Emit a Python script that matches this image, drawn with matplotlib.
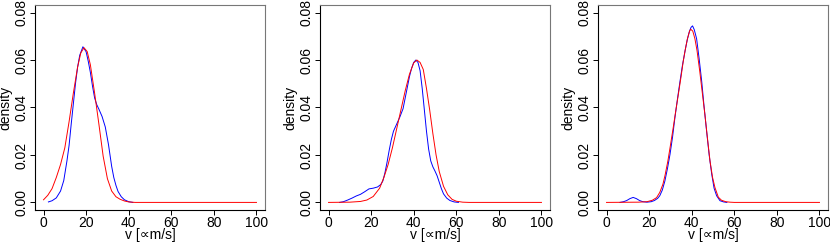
import matplotlib.pyplot as plt

plt.rcParams['font.family'] = ['Liberation Sans', 'DejaVu Sans']

# panel 1 : estimated density curves (blue = kernel estimate, red = fit)
p1_blue_x = [2.3, 4, 6, 8, 9.5, 11, 12, 13, 14, 15, 16, 17, 18.5, 20, 21, 22, 23, 24, 25, 26,
             27.5, 29, 30.5, 32, 33, 34, 35, 36.5, 38, 40, 42]
p1_blue_y = [0.0002, 0.0007, 0.0019, 0.0048, 0.0092, 0.0175, 0.0240, 0.0330, 0.0415, 0.0500,
             0.0570, 0.0620, 0.0656, 0.0635, 0.0595, 0.0548, 0.0490, 0.0440, 0.0412, 0.0393,
             0.0362, 0.0318, 0.0244, 0.0152, 0.0105, 0.0072, 0.0046, 0.0024, 0.0011, 0.0003, 0.0]
p1_red_x = [0, 2, 4, 6, 8, 10, 12, 14, 16, 17.5, 19, 20.5, 22, 24, 26, 28, 30, 32, 34, 36,
            38, 40, 43, 100]
p1_red_y = [0.0011, 0.0030, 0.0058, 0.0105, 0.0160, 0.0230, 0.0340, 0.0460, 0.0570, 0.0630,
            0.0652, 0.0636, 0.0580, 0.0460, 0.0330, 0.0195, 0.0100, 0.0048, 0.0024, 0.0013,
            0.0006, 0.0002, 0.0, 0.0]

# panel 2
p2_blue_x = [5.2, 7, 9, 11, 13, 15, 17, 19, 21, 23, 24.5, 25.5, 26.5, 27.5, 28.5, 29.5, 30.5,
             32, 33.5, 35, 36, 37, 38, 39, 40, 41, 42, 43, 44, 45, 46, 47, 48, 49, 50, 51, 52,
             53, 54, 55.5, 57, 59, 61]
p2_blue_y = [0.0, 0.0003, 0.0010, 0.0018, 0.0027, 0.0034, 0.0045, 0.0057, 0.0060, 0.0065,
             0.0075, 0.0090, 0.0125, 0.0170, 0.0220, 0.0265, 0.0300, 0.0330, 0.0360, 0.0395,
             0.0440, 0.0485, 0.0530, 0.0565, 0.0590, 0.0600, 0.0590, 0.0555, 0.0480, 0.0390,
             0.0300, 0.0225, 0.0175, 0.0150, 0.0132, 0.0112, 0.0085, 0.0058, 0.0036, 0.0018,
             0.0008, 0.0002, 0.0]
p2_red_x = [0, 10, 15, 18, 21, 24, 26, 28, 30, 32, 34, 36, 38, 40, 41.5, 43, 44.5, 46, 47.5,
            49, 50.5, 52, 54, 56, 58, 60, 63, 66, 100]
p2_red_y = [0.0, 0.0001, 0.0004, 0.0010, 0.0025, 0.0060, 0.0105, 0.0160, 0.0230, 0.0310,
            0.0390, 0.0470, 0.0540, 0.0588, 0.0600, 0.0590, 0.0560, 0.0480, 0.0390, 0.0290,
            0.0200, 0.0130, 0.0068, 0.0032, 0.0013, 0.0005, 0.0001, 0.0, 0.0]

# panel 3
p3_blue_x = [6.3, 8, 9.5, 11, 12.5, 14, 15.5, 17, 19, 21, 22.5, 24, 25, 26.2, 27.4, 28.6, 29.8,
             31, 32.1, 33.3, 34.5, 35.6, 36.8, 37.9, 38.9, 39.7, 40.4, 41.2, 42.3, 43.5, 44.7,
             45.8, 47, 48.2, 49.4, 50.5, 51.7, 53.3, 55, 56.5]
p3_blue_y = [0.0, 0.0003, 0.0008, 0.0016, 0.0021, 0.0016, 0.0008, 0.0003, 0.0001, 0.0003,
             0.0008, 0.0017, 0.0028, 0.0052, 0.0090, 0.0142, 0.0202, 0.0275, 0.0356, 0.0435,
             0.0510, 0.0575, 0.0635, 0.0685, 0.0720, 0.0738, 0.0744, 0.0728, 0.0690, 0.0605,
             0.0510, 0.0405, 0.0300, 0.0200, 0.0119, 0.0060, 0.0028, 0.0007, 0.0002, 0.0]
p3_red_x = [0, 15, 19, 21.5, 23.5, 25, 26.5, 27.5, 28.8, 30, 31.3, 32.5, 33.7, 35, 36, 37, 38,
            39, 39.5, 40.5, 41.5, 42.5, 43.8, 45, 46.2, 47.4, 48.6, 49.8, 50.9, 52.5, 54, 56,
            58, 60, 100]
p3_red_y = [0.0, 0.0001, 0.0003, 0.0009, 0.0020, 0.0042, 0.0077, 0.0115, 0.0174, 0.0240,
            0.0314, 0.0385, 0.0454, 0.0530, 0.0593, 0.0645, 0.0690, 0.0722, 0.0730, 0.0722,
            0.0690, 0.0640, 0.0551, 0.0460, 0.0370, 0.0270, 0.0174, 0.0105, 0.0063, 0.0022,
            0.0009, 0.0003, 0.0001, 0.0, 0.0]

panels = [(p1_blue_x, p1_blue_y, p1_red_x, p1_red_y),
          (p2_blue_x, p2_blue_y, p2_red_x, p2_red_y),
          (p3_blue_x, p3_blue_y, p3_red_x, p3_red_y)]
lefts = [35, 320, 598]  # pixel position of each plot box

fig = plt.figure(figsize=(8.3, 2.43), dpi=100)
for (bx, by, rx, ry), left in zip(panels, lefts):
    ax = fig.add_axes([left / 830, 33 / 243, 230 / 830, 205 / 243])
    ax.plot(bx, by, color='#0000ff', lw=0.7)
    ax.plot(rx, ry, color='#ff0000', lw=0.7)
    ax.set_xlim(-4, 104)
    ax.set_ylim(-0.0032, 0.0832)
    ax.set_xticks([0, 20, 40, 60, 80, 100])
    ax.set_yticks([0.0, 0.02, 0.04, 0.06, 0.08])
    ax.set_yticklabels(['0.00', '0.02', '0.04', '0.06', '0.08'], rotation=90, va='center')
    ax.tick_params(length=3.5, width=0.7, labelsize=10)
    ax.tick_params(axis='x', pad=0.5)
    ax.tick_params(axis='y', pad=1.5)
    for s in ['top', 'right']:
        ax.spines[s].set_color('#777777')
    for s in ax.spines.values():
        s.set_linewidth(0.8)
    ax.set_xlabel('v [∝m/s]', fontsize=10)
    ax.set_ylabel('density', fontsize=10)
    ax.xaxis.set_label_coords(0.5, -0.09)
    ax.yaxis.set_label_coords(-0.097, 0.5)

fig.savefig('out.png', dpi=100)
